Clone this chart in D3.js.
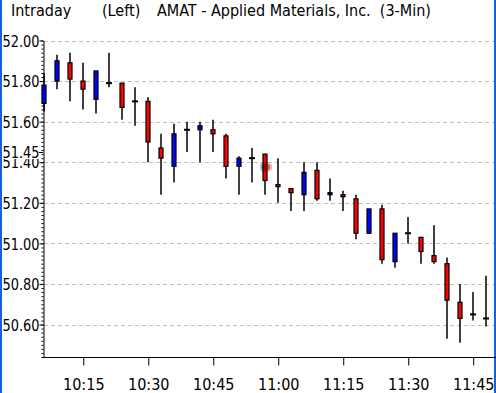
<!DOCTYPE html>
<html>
<head>
<meta charset="utf-8">
<script src="https://cdn.jsdelivr.net/npm/d3@7"></script>
<style>
  body { margin: 0; background: #fff; }
  text { font-family: "Liberation Sans Narrow", "DejaVu Sans Condensed", sans-serif; }
</style>
</head>
<body>
<div id="chart"></div>
<script>
// 3-minute bars, AMAT
var times  = ["10:06","10:09","10:12","10:15","10:18","10:21","10:24","10:27","10:30","10:33",
              "10:36","10:39","10:42","10:45","10:48","10:51","10:54","10:57","11:00","11:03",
              "11:06","11:09","11:12","11:15","11:18","11:21","11:24","11:27","11:30","11:33",
              "11:36","11:39","11:42","11:45","11:48"];
var opens  = [51.69,51.80,51.89,51.80,51.71,51.79,51.79,51.70,51.70,51.47,
              51.38,51.56,51.56,51.56,51.53,51.38,51.42,51.44,51.29,51.27,
              51.24,51.36,51.24,51.24,51.22,51.05,51.17,50.91,51.05,51.03,
              50.94,50.90,50.71,50.65,50.63];
var highs  = [51.84,51.93,51.94,51.89,51.85,51.94,51.79,51.77,51.72,51.54,
              51.59,51.60,51.60,51.61,51.54,51.43,51.47,51.44,51.42,51.27,
              51.40,51.40,51.32,51.26,51.24,51.17,51.19,51.05,51.13,51.03,
              51.09,50.93,50.80,50.76,50.84];
var lows   = [51.65,51.76,51.70,51.66,51.64,51.77,51.61,51.58,51.40,51.24,
              51.30,51.45,51.40,51.45,51.32,51.24,51.30,51.24,51.20,51.16,
              51.16,51.21,51.21,51.16,51.02,51.05,50.90,50.88,51.00,50.90,
              50.90,50.53,50.51,50.62,50.59];
var closes = [51.78,51.90,51.81,51.76,51.85,51.79,51.67,51.70,51.50,51.42,
              51.54,51.56,51.58,51.54,51.38,51.42,51.42,51.31,51.28,51.25,
              51.35,51.22,51.25,51.23,51.05,51.17,50.92,51.05,51.05,50.96,
              50.91,50.72,50.63,50.65,50.63];
var yTicks = [50.60,50.80,51.00,51.20,51.40,51.60,51.80,52.00];
var xTicks = ["10:15","10:30","10:45","11:00","11:15","11:30","11:45"];
var markerPrice = 51.45;

(function () {
    var width = 496, height = 393;
    var plotLeft = 43, plotRight = 494, plotTop = 40.5, plotBottom = 357;

    var parse = d3.timeParse("%H:%M");

    var svg = d3.select("#chart").append("svg")
        .attr("width", width)
        .attr("height", height);

    var x = d3.scaleTime()
        .domain([parse("10:05"), parse("11:50")])
        .range([plotLeft - 0.7 * 13 / 3, plotRight + 0.2 * 13 / 3]);
    var y = d3.scaleLinear()
        .domain([50.44, 52.00])
        .range([plotBottom, plotTop]);

    // frame edges
    svg.append("rect").attr("x", 0).attr("y", 0).attr("width", 2).attr("height", height).attr("fill", "#1460e0");
    svg.append("rect").attr("x", 494).attr("y", 0).attr("width", 2).attr("height", height).attr("fill", "#1460e0");

    // title
    svg.append("text").attr("x", 11).attr("y", 16).attr("font-size", 16).text("Intraday");
    svg.append("text").attr("x", 102).attr("y", 16).attr("font-size", 16).text("(Left)");
    svg.append("text").attr("x", 157).attr("y", 16).attr("font-size", 16)
        .attr("xml:space", "preserve").text("AMAT - Applied Materials, Inc.  (3-Min)");

    // grid
    svg.append("g").selectAll("line").data(yTicks).enter().append("line")
        .attr("x1", plotLeft + 1).attr("x2", plotRight)
        .attr("y1", function (d) { return Math.round(y(d)) + 0.5; })
        .attr("y2", function (d) { return Math.round(y(d)) + 0.5; })
        .attr("stroke", "#c0c0c0")
        .attr("stroke-dasharray", "4,3");

    // minor ticks every 0.02
    var minor = d3.range(50.44, 52.001, 0.02);
    svg.append("g")
        .attr("transform", "translate(" + (plotLeft + 0.5) + ",0)")
        .call(d3.axisLeft(y).tickValues(minor).tickSize(2).tickFormat(""))
        .call(function (g) { g.select(".domain").remove(); });

    // y axis
    var yAxis = svg.append("g")
        .attr("transform", "translate(" + (plotLeft + 0.5) + ",0)")
        .call(d3.axisLeft(y).tickValues(yTicks).tickSize(4).tickSizeOuter(0).tickFormat(d3.format(".2f")));
    yAxis.attr("font-family", null);
    yAxis.selectAll("text").attr("font-size", 16).attr("fill", "#000")
        .attr("x", -4).attr("dy", "0.36em")
        .attr("textLength", 37).attr("lengthAdjust", "spacingAndGlyphs");
    yAxis.selectAll("line, path").attr("stroke", "#000");

    // marker price label
    var my = y(markerPrice);
    svg.append("rect").attr("x", 2).attr("y", my - 8).attr("width", 37).attr("height", 15).attr("fill", "#fff");
    svg.append("text").attr("x", 39.5).attr("y", my).attr("dy", "0.36em")
        .attr("text-anchor", "end").attr("font-size", 16)
        .attr("textLength", 37).attr("lengthAdjust", "spacingAndGlyphs")
        .text(d3.format(".2f")(markerPrice));
    svg.append("line").attr("x1", plotLeft - 4).attr("x2", plotLeft)
        .attr("y1", Math.round(my) + 0.5).attr("y2", Math.round(my) + 0.5).attr("stroke", "#000");

    // x axis
    var xAxis = svg.append("g")
        .attr("transform", "translate(0," + (plotBottom + 0.5) + ")")
        .call(d3.axisBottom(x).tickValues(xTicks.map(parse)).tickSize(8).tickSizeOuter(0)
            .tickFormat(d3.timeFormat("%H:%M")));
    xAxis.attr("font-family", null);
    xAxis.select(".domain").attr("d", "M" + plotLeft + ",0H" + width);
    xAxis.selectAll("text").attr("font-size", 16).attr("fill", "#000")
        .attr("y", 21).attr("dy", "0.71em");
    xAxis.selectAll("line, path").attr("stroke", "#000");

    // candles
    var bars = times.map(function (t, i) {
        return { t: parse(t), o: opens[i], h: highs[i], l: lows[i], c: closes[i] };
    });

    var candle = svg.append("g").selectAll("g").data(bars).enter().append("g")
        .attr("transform", function (d) { return "translate(" + Math.round(x(d.t)) + ",0)"; });

    candle.append("line")
        .attr("y1", function (d) { return y(d.h); })
        .attr("y2", function (d) { return y(d.l); })
        .attr("stroke", "#000")
        .attr("stroke-width", 1.5);

    candle.filter(function (d) { return d.o !== d.c; }).append("rect")
        .attr("x", -2)
        .attr("width", 4)
        .attr("y", function (d) { return y(Math.max(d.o, d.c)); })
        .attr("height", function (d) { return Math.abs(y(d.o) - y(d.c)); })
        .attr("fill", function (d) { return d.c > d.o ? "#0000ff" : "#ff0000"; })
        .attr("stroke", "#000")
        .attr("stroke-width", 1.2);

    candle.filter(function (d) { return d.o === d.c; }).append("rect")
        .attr("x", -3)
        .attr("width", 6)
        .attr("y", function (d) { return y(d.o) - 1; })
        .attr("height", 2)
        .attr("fill", "#000");

    // cursor smudge
    var defs = svg.append("defs");
    defs.append("filter").attr("id", "blur").append("feGaussianBlur").attr("stdDeviation", 2.2);
    svg.append("circle").attr("cx", 265).attr("cy", 167).attr("r", 4)
        .attr("fill", "#300").attr("filter", "url(#blur)").attr("opacity", 0.8);
    svg.append("circle").attr("cx", 269).attr("cy", 167).attr("r", 2.5)
        .attr("fill", "#f00").attr("filter", "url(#blur)");
})();
</script>
</body>
</html>
